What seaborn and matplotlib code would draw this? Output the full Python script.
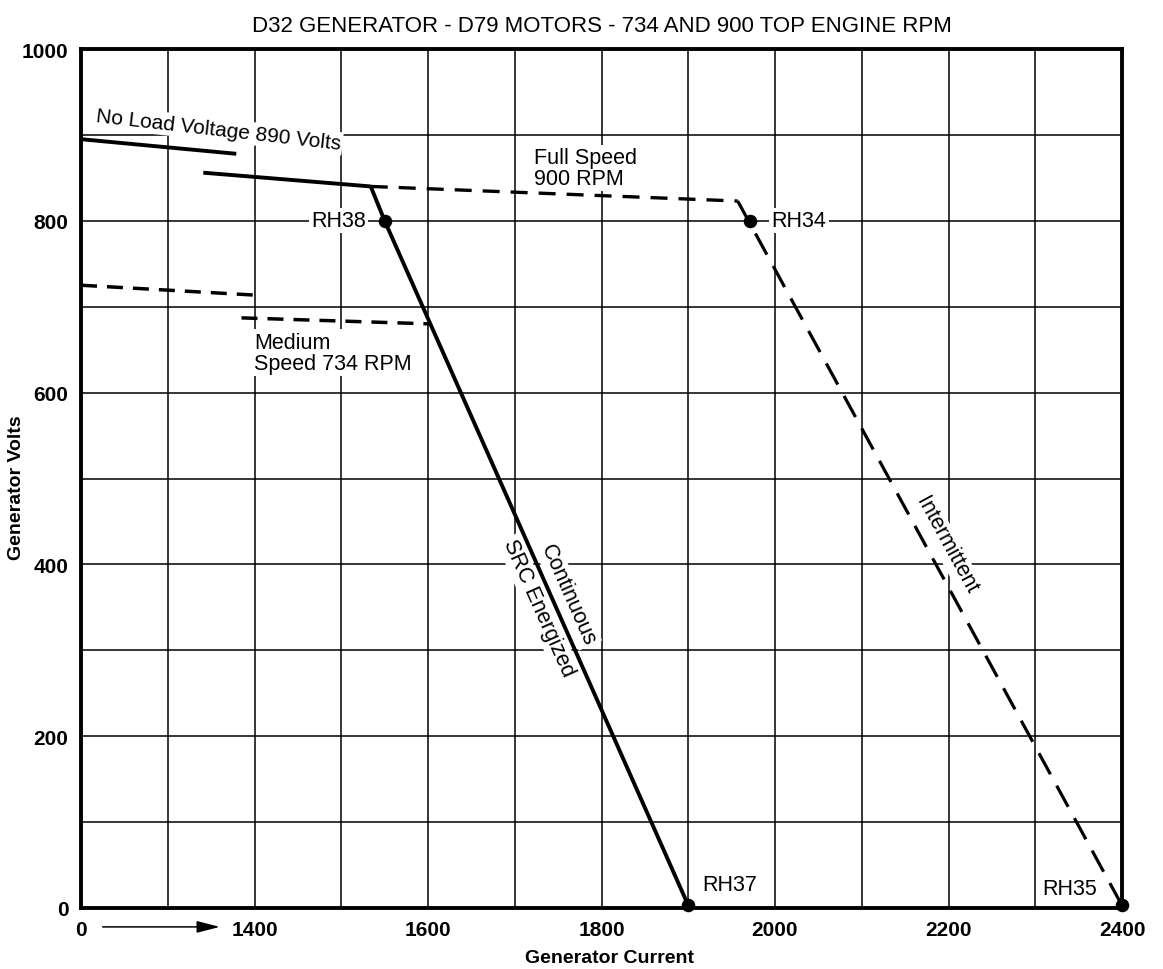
import numpy as np
import matplotlib
matplotlib.use("Agg")
import matplotlib.pyplot as plt
import seaborn as sns

# ---------------- data ----------------
x_tick_values = [1200, 1400, 1600, 1800, 2000, 2200, 2400]
x_tick_labels = ["0", "1400", "1600", "1800", "2000", "2200", "2400"]
x_grid_values = [1300, 1500, 1700, 1900, 2100, 2300]
y_tick_values = [0, 200, 400, 600, 800, 1000]
y_tick_labels = ["0", "200", "400", "600", "800", "1000"]
y_grid_values = [100, 300, 500, 700, 900]

no_load_current = [1200, 1379]
no_load_volts = [895, 878]
full_speed_current = [1341, 1534]
full_speed_volts = [856, 840]
continuous_current = [1534, 1550, 1900]
continuous_volts = [840, 800, 3]
intermittent_current = [1534, 1957, 2400]
intermittent_volts = [840, 823, 3]
medium_upper_current = [1200, 1409]
medium_upper_volts = [725, 713]
medium_lower_current = [1385, 1602]
medium_lower_volts = [687, 680]
point_labels = ["RH38", "RH34", "RH37", "RH35"]
point_current = [1550, 1971, 1900, 2400]
point_volts = [800, 800, 3, 3]

title_text = "D32 GENERATOR - D79 MOTORS - 734 AND 900 TOP ENGINE RPM"
x_label = "Generator Current"
y_label = "Generator Volts"

# ---------------- style ----------------
sns.set_style("white")
plt.rcParams["font.family"] = ["Liberation Sans", "DejaVu Sans"]
plt.rcParams["lines.scale_dashes"] = False
for key in ["text.color", "axes.labelcolor", "xtick.color", "ytick.color", "axes.edgecolor"]:
    plt.rcParams[key] = "black"

W, H = 1163, 970
DPI = 100
fig = plt.figure(figsize=(W / DPI, H / DPI), dpi=DPI)
fig.patch.set_facecolor("white")
L, R, T, B = 81, 1122, 50, 909
ax = fig.add_axes([L / W, 1 - B / H, (R - L) / W, (B - T) / H])
ax.set_xlim(1200, 2400)
ax.set_ylim(0, 1000)

# grid
ax.set_xticks(x_tick_values)
ax.set_xticklabels(x_tick_labels)
ax.set_xticks(x_grid_values, minor=True)
ax.set_yticks(y_tick_values)
ax.set_yticklabels(y_tick_labels)
ax.set_yticks(y_grid_values, minor=True)
ax.set_axisbelow(True)
ax.grid(True, which="both", color="black", linewidth=1.1)
ax.tick_params(which="both", length=0)
ax.tick_params(axis="y", pad=9, labelsize=15, labelcolor="black")
ax.tick_params(axis="x", pad=9, labelsize=15, labelcolor="black")
for lab in ax.get_xticklabels() + ax.get_yticklabels():
    lab.set_fontweight("bold")
for sp in ax.spines.values():
    sp.set_visible(True)
    sp.set_color("black")
    sp.set_linewidth(2.8)

# ---------------- lines ----------------
def line(xs, ys, lw, dashes=None):
    sns.lineplot(x=xs, y=ys, ax=ax, color="black", linewidth=lw,
                 estimator=None, sort=False, zorder=4)
    ln = ax.lines[-1]
    ln.set_solid_capstyle("butt")
    if dashes is not None:
        ln.set_dashes(dashes)
        ln.set_dash_capstyle("butt")
    return ln

px = 72.0 / DPI  # points per pixel
line(no_load_current, no_load_volts, 2.8)
line(full_speed_current, full_speed_volts, 2.8)
line(continuous_current, continuous_volts, 2.8)
# intermittent: flat part with short dashes, steep part with long dashes
line(intermittent_current[:2], intermittent_volts[:2], 2.4, dashes=(17 * px, 11 * px))
line(intermittent_current[1:], intermittent_volts[1:], 2.3, dashes=(24 * px, 13 * px))
line(medium_upper_current, medium_upper_volts, 2.5, dashes=(16 * px, 10 * px))
line(medium_lower_current, medium_lower_volts, 2.5, dashes=(16 * px, 10 * px))

sns.scatterplot(x=point_current, y=point_volts, ax=ax, s=95, color="black",
                edgecolor="black", linewidth=0, zorder=6, clip_on=False)

# ---------------- annotations ----------------
box = dict(facecolor="white", edgecolor="none", pad=1.5)
fs = 15.5
ax.text(1358, 906, "No Load Voltage 890 Volts", rotation=-6.5, rotation_mode="anchor",
        ha="center", va="center", fontsize=15, bbox=box, zorder=3)
ax.text(1722, 886, "Full Speed\n900 RPM", ha="left", va="top", fontsize=fs,
        linespacing=1.0, bbox=box, zorder=3)
ax.text(1400, 671, "Medium\nSpeed 734 RPM", ha="left", va="top", fontsize=fs,
        linespacing=1.0, bbox=box, zorder=3)

ax.text(1528, point_volts[0], point_labels[0], ha="right", va="center", fontsize=fs, bbox=box, zorder=3)
ax.text(1996, point_volts[1], point_labels[1], ha="left", va="center", fontsize=fs, bbox=box, zorder=3)
ax.text(1916, 27, point_labels[2], ha="left", va="center", fontsize=fs, bbox=box, zorder=3)
ax.text(2308, 23, point_labels[3], ha="left", va="center", fontsize=fs, bbox=box, zorder=3)


def screen_angle(x0, y0, x1, y1):
    p0 = ax.transData.transform((x0, y0))
    p1 = ax.transData.transform((x1, y1))
    return np.degrees(np.arctan2(p1[1] - p0[1], p1[0] - p0[0]))


def along_label(text, xs, ys, v, offset_px, size):
    xs_r = np.array(xs[::-1], float)
    ys_r = np.array(ys[::-1], float)
    xa = float(np.interp(v, ys_r, xs_r))
    ang = screen_angle(xs[-2], ys[-2], xs[-1], ys[-1])
    th = np.radians(ang)
    nx, ny = -np.sin(th), np.cos(th)
    ax.annotate(text, xy=(xa, v), xytext=(nx * offset_px * px, ny * offset_px * px),
                textcoords="offset points", rotation=ang, rotation_mode="anchor",
                ha="center", va="center", fontsize=size, bbox=box, zorder=3)


along_label("Continuous", continuous_current, continuous_volts, 358, 16, fs)
along_label("SRC Energized", continuous_current, continuous_volts, 358, -16, fs)
along_label("Intermittent", intermittent_current, intermittent_volts, 413, 19, fs)

# arrow after the "0" tick label
ax.annotate("", xy=(1360, -0.022), xytext=(1225, -0.022),
            xycoords=("data", "axes fraction"), textcoords=("data", "axes fraction"),
            arrowprops=dict(arrowstyle="-|>,head_length=0.7,head_width=0.18",
                            color="black", lw=1.1, mutation_scale=20,
                            shrinkA=0, shrinkB=0),
            annotation_clip=False)

# titles
fig.text(602 / W, 1 - 27 / H, title_text, ha="center", va="center", fontsize=16)
fig.text(610 / W, 1 - 959 / H, x_label, ha="center", va="center", fontsize=14,
         fontweight="bold")
fig.text(17 / W, 1 - 488 / H, y_label, ha="center", va="center", rotation=90,
         fontsize=14, fontweight="bold")

fig.savefig("out.png", dpi=DPI, facecolor="white")
